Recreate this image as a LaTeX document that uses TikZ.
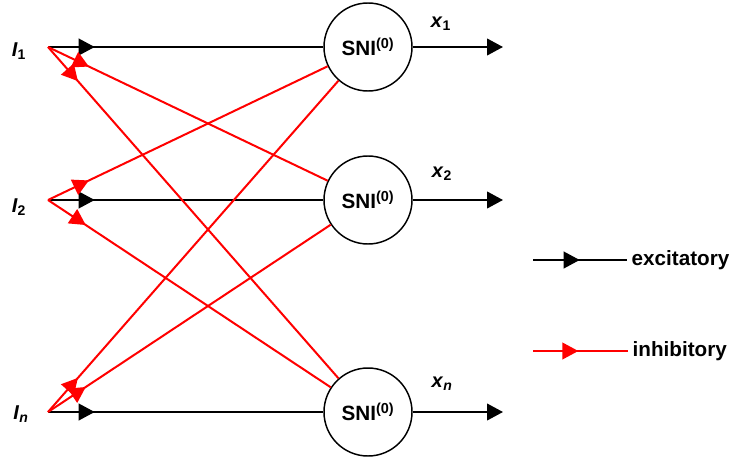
\documentclass[tikz,border=0pt]{standalone}
\usepackage{fontspec}
\setmainfont{Liberation Sans}
\usetikzlibrary{arrows.meta,decorations.markings}

\tikzset{
  >={Triangle[length=12pt,width=12.5pt]},
  neuron/.style={circle,draw,line width=1.1pt,minimum size=66pt,inner sep=0pt,
    font=\fontsize{15.5}{17}\selectfont\bfseries},
  label/.style={font=\fontsize{15}{17}\selectfont\bfseries},
  legend/.style={anchor=west,font=\fontsize{15.5}{17}\selectfont\bfseries},
  excite/.style={line width=1.5pt,postaction={decorate},
    decoration={markings,mark=at position 35pt with {\arrow{>}}}},
  inhibit/.style={red,line width=1.5pt,postaction={decorate},
    decoration={markings,mark=at position 34pt with {\arrow{>}}}}
}

\begin{document}
\begin{tikzpicture}[x=0.75pt,y=-0.75pt]
  \useasboundingbox (0,0) rectangle (734,460);

  % inputs
  \coordinate (i1) at (48,47);
  \coordinate (i2) at (48,200);
  \coordinate (i3) at (48,412);
  \node[label] (l1) at (19,51) {\textit{I}\textsubscript{1}};
  \node[label] (l2) at (19,207) {\textit{I}\textsubscript{2}};
  \node[label] (l3) at (21,414) {\textit{I}\textsubscript{\textit{n}}};

  % neurons
  \node[neuron] (n1) at (368,47) {SNI\textsuperscript{(0)}};
  \node[neuron] (n2) at (368,200) {SNI\textsuperscript{(0)}};
  \node[neuron] (n3) at (368,412) {SNI\textsuperscript{(0)}};

  % outputs
  \coordinate (o1) at (503,47);
  \coordinate (o2) at (503,200);
  \coordinate (o3) at (503,412);
  \node[label] (x1) at (441,24) {\textit{x}\textsubscript{1}};
  \node[label] (x2) at (442,174) {\textit{x}\textsubscript{2}};
  \node[label] (x3) at (442,384) {\textit{x}\textsubscript{\textit{n}}};

  \foreach \k in {1,2,3}
    \draw[excite] (i\k) -- (n\k);
  \foreach \from/\to in {1/2,1/3,2/1,2/3,3/1,3/2}
    \draw[inhibit] (i\from) -- (n\to);
  \foreach \k in {1,2,3}
    \draw[->,line width=1.5pt] (n\k) -- (o\k);

  % legend
  \coordinate (e0) at (533,260);
  \coordinate (h0) at (533,351);
  \node[legend] (etext) at (627,260) {excitatory};
  \node[legend] (htext) at (628,351) {inhibitory};
  \draw[excite] (e0) -- (etext);
  \draw[inhibit] (h0) -- (htext);
\end{tikzpicture}
\end{document}
